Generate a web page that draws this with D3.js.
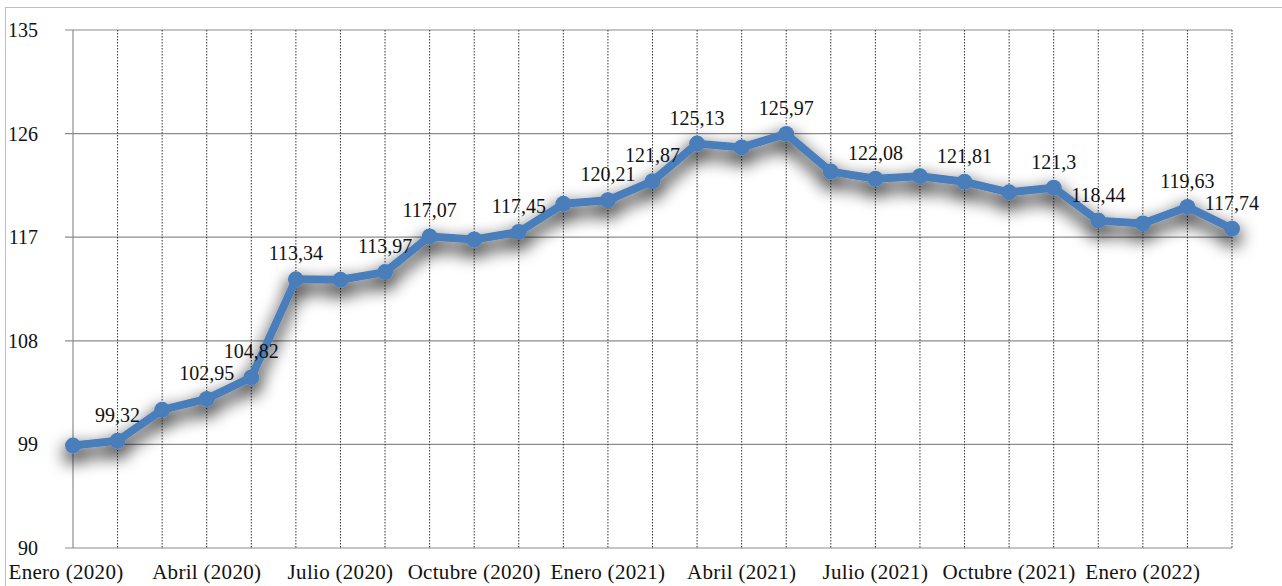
<!DOCTYPE html>
<html lang="es">
<head>
<meta charset="utf-8">
<title>Índice mensual 2020-2022</title>
<script src="https://d3js.org/d3.v7.min.js"></script>
<style>
  html, body { margin: 0; padding: 0; background: #fff; }
  svg { display: block; }
  svg text { font-family: "Liberation Serif", "DejaVu Serif", serif; }
</style>
</head>
<body>
<svg id="chart" width="1282" height="586"></svg>
<script>
// months Jan 2020 .. Mar 2022
const months = [
  "Enero (2020)", "Febrero (2020)", "Marzo (2020)", "Abril (2020)", "Mayo (2020)", "Junio (2020)",
  "Julio (2020)", "Agosto (2020)", "Septiembre (2020)", "Octubre (2020)", "Noviembre (2020)", "Diciembre (2020)",
  "Enero (2021)", "Febrero (2021)", "Marzo (2021)", "Abril (2021)", "Mayo (2021)", "Junio (2021)",
  "Julio (2021)", "Agosto (2021)", "Septiembre (2021)", "Octubre (2021)", "Noviembre (2021)", "Diciembre (2021)",
  "Enero (2022)", "Febrero (2022)", "Marzo (2022)"
];
const values = [
  98.9, 99.32, 102.0, 102.95, 104.82, 113.34, 113.3, 113.97, 117.07, 116.8, 117.45, 119.9,
  120.21, 121.87, 125.13, 124.8, 125.97, 122.7, 122.08, 122.3, 121.81, 120.9, 121.3, 118.44,
  118.2, 119.63, 117.74
];
// which points carry a data label
const labelled = [1, 3, 4, 5, 7, 8, 10, 12, 13, 14, 16, 18, 20, 22, 23, 25, 26];
const yTicks = [90, 99, 108, 117, 126, 135];
const xTickEvery = 3;

(function () {
  const svg = d3.select("#chart");
  const font = "Liberation Serif, DejaVu Serif, serif";
  const pLeft = 73, pRight = 1232, pTop = 30, pBottom = 548;

  const x = d3.scalePoint().domain(d3.range(months.length)).range([pLeft, pRight]);
  const y = d3.scaleLinear().domain([90, 135]).range([pBottom, pTop]);

  // outer chart border
  svg.append("rect")
    .attr("x", 5.5).attr("y", 7.5).attr("width", 1290).attr("height", 600)
    .attr("fill", "none").attr("stroke", "#bdbdbd");

  // soft grey shadow under the series
  const f = svg.append("defs").append("filter").attr("id", "shadow")
    .attr("filterUnits", "userSpaceOnUse")
    .attr("x", 0).attr("y", 0).attr("width", 1282).attr("height", 586);
  f.append("feGaussianBlur").attr("in", "SourceAlpha").attr("stdDeviation", 9).attr("result", "blur");
  f.append("feOffset").attr("in", "blur").attr("dx", 0).attr("dy", 8).attr("result", "off");
  f.append("feComponentTransfer").attr("in", "off").attr("result", "shade")
    .append("feFuncA").attr("type", "linear").attr("slope", 1.1);
  const merge = f.append("feMerge");
  merge.append("feMergeNode").attr("in", "shade");
  merge.append("feMergeNode").attr("in", "SourceGraphic");

  // horizontal grid
  svg.append("g").selectAll("line").data(yTicks).join("line")
    .attr("x1", pLeft - 8).attr("x2", pRight)
    .attr("y1", d => y(d)).attr("y2", d => y(d))
    .attr("stroke", "#8c8c8c").attr("stroke-width", 1.2);

  // vertical dotted grid
  svg.append("g").selectAll("line").data(d3.range(1, months.length)).join("line")
    .attr("x1", d => x(d)).attr("x2", d => x(d))
    .attr("y1", pTop).attr("y2", pBottom)
    .attr("stroke", "#333").attr("stroke-width", 1)
    .attr("stroke-dasharray", "1.5,1.5");

  // y axis line
  svg.append("line")
    .attr("x1", pLeft).attr("x2", pLeft).attr("y1", pTop).attr("y2", pBottom)
    .attr("stroke", "#8c8c8c").attr("stroke-width", 1.2);

  // y tick labels
  svg.append("g").selectAll("text").data(yTicks).join("text")
    .attr("x", 38).attr("y", d => y(d)).attr("dy", "0.35em")
    .attr("font-family", font)
    .attr("text-anchor", "end").attr("font-size", 20).attr("fill", "#111")
    .text(d => d);

  // x tick labels
  svg.append("g").selectAll("text")
    .data(d3.range(0, months.length, xTickEvery)).join("text")
    .attr("x", d => d === 0 ? 66 : x(d)).attr("y", pBottom + 31)
    .attr("font-family", font)
    .attr("text-anchor", "middle").attr("font-size", 21).attr("letter-spacing", 0.3)
    .attr("fill", "#111")
    .text(d => months[d]);

  // series with shadow
  const series = svg.append("g").attr("filter", "url(#shadow)");
  series.append("path")
    .datum(values)
    .attr("fill", "none").attr("stroke", "#4a7ebb").attr("stroke-width", 8)
    .attr("stroke-linejoin", "round")
    .attr("d", d3.line().x((d, i) => x(i)).y(d => y(d)));
  series.selectAll("circle").data(values).join("circle")
    .attr("cx", (d, i) => x(i)).attr("cy", d => y(d)).attr("r", 8)
    .attr("fill", "#4a7ebb");

  // data labels
  const fmt = v => String(v).replace(".", ",");
  svg.append("g").selectAll("text").data(labelled).join("text")
    .attr("x", i => x(i)).attr("y", i => y(values[i]) - 19)
    .attr("font-family", font)
    .attr("text-anchor", "middle").attr("font-size", 20).attr("fill", "#111")
    .text(i => fmt(values[i]));
})();
</script>
</body>
</html>
